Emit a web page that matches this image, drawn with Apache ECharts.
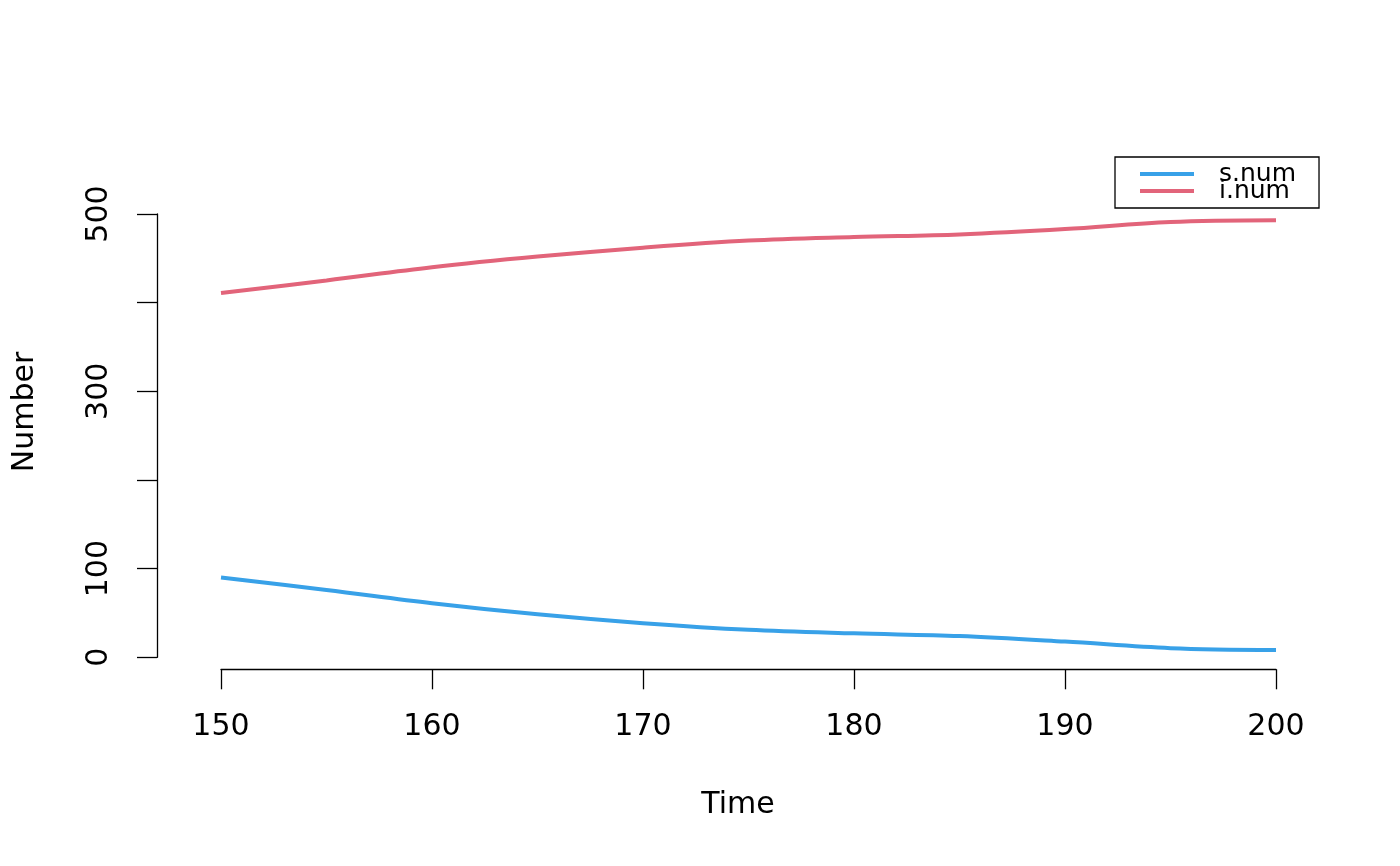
<!DOCTYPE html>
<html>
<head>
<meta charset="utf-8">
<script src="https://cdn.jsdelivr.net/npm/echarts@6/dist/echarts.min.js"></script>
<style>
html,body{margin:0;padding:0;background:#fff;}
#chart{width:1400px;height:866px;}
</style>
</head>
<body>
<div id="chart"></div>
<script>
const times = [150, 155, 160, 165, 170, 175, 180, 185, 190, 195, 200];
const sNum = [90, 76, 61, 48.5, 38.5, 31, 27, 24, 17.7, 10.3, 8.2];
const iNum = [411, 425, 440, 452, 462, 470, 474, 477, 483, 491, 493];
const yTickLabels = ['0', '100', '300', '500'];
const seriesNames = ['s.num', 'i.num'];
const colors = ['#38A1E8', '#E2647A'];

const font = 'DejaVu Sans';
const chart = echarts.init(document.getElementById('chart'));

function pairs(xs, ys) { return xs.map((x, k) => [x, ys[k]]); }

chart.setOption({
  animation: false,
  backgroundColor: '#ffffff',
  textStyle: { fontFamily: font, color: '#000' },
  grid: { left: 221, right: 124, top: 214, bottom: 208.7, containLabel: false },
  xAxis: {
    type: 'value', min: 150, max: 200, interval: 10, offset: 12,
    splitLine: { show: false },
    axisLine: { show: true, onZero: false, lineStyle: { color: '#000', width: 1.3 } },
    axisTick: { show: true, length: 20, lineStyle: { color: '#000', width: 1.3 } },
    axisLabel: { fontSize: 30, color: '#000', fontFamily: font, margin: 43 }
  },
  yAxis: {
    type: 'value', min: 0, max: 500, interval: 100, offset: 64,
    splitLine: { show: false },
    axisLine: { show: true, onZero: false, lineStyle: { color: '#000', width: 1.3 } },
    axisTick: { show: true, length: 20, lineStyle: { color: '#000', width: 1.3 } },
    axisLabel: {
      fontSize: 30, color: '#000', fontFamily: font, margin: 43, rotate: 90,
      formatter: v => yTickLabels.indexOf(String(v)) >= 0 ? String(v) : ''
    }
  },
  legend: {
    left: 1115, top: 157, orient: 'vertical',
    borderColor: '#000', borderWidth: 1.3, borderRadius: 0,
    padding: [4.5, 23, 4.5, 25],
    itemGap: -8, itemWidth: 54, itemHeight: 4, icon: 'rect',
    textStyle: { fontSize: 25, color: '#000', fontFamily: font, padding: [2, 0, 0, 20] },
    data: seriesNames
  },
  graphic: [
    { type: 'text', x: 738, y: 805, style: { text: 'Time', fontSize: 30, fontFamily: font, fill: '#000', align: 'center', verticalAlign: 'middle' } },
    { type: 'text', rotation: Math.PI / 2, x: 25, y: 412, style: { text: 'Number', fontSize: 30, fontFamily: font, fill: '#000', align: 'center', verticalAlign: 'middle' } }
  ],
  series: [
    { name: seriesNames[0], type: 'line', data: pairs(times, sNum), smooth: 0.35, symbol: 'none',
      lineStyle: { color: colors[0], width: 4 }, itemStyle: { color: colors[0] } },
    { name: seriesNames[1], type: 'line', data: pairs(times, iNum), smooth: 0.35, symbol: 'none',
      lineStyle: { color: colors[1], width: 4 }, itemStyle: { color: colors[1] } }
  ]
});
</script>
</body>
</html>
